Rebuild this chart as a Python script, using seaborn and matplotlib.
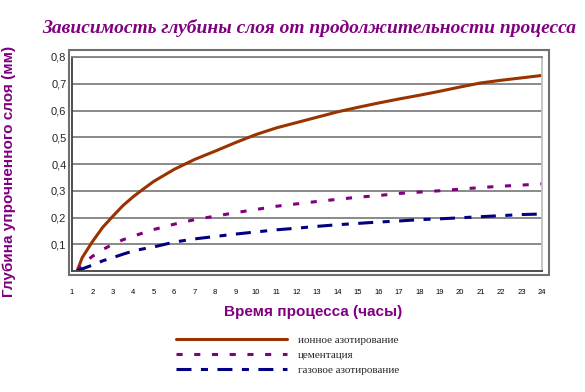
import matplotlib
matplotlib.use("Agg")
import matplotlib.pyplot as plt
import seaborn as sns
import pandas as pd
from matplotlib.patches import Rectangle

hours = [1.25, 1.5, 2, 2.5, 3, 3.5, 4, 4.5, 5, 6, 7, 8, 9, 10, 11, 12, 13, 14, 15, 16, 17, 18, 19, 20, 21, 22, 23, 24]
ion_nitriding = [0.0, 0.05, 0.11, 0.163, 0.205, 0.245, 0.278, 0.307, 0.335, 0.38, 0.417, 0.448, 0.48, 0.51,
                 0.535, 0.555, 0.575, 0.595, 0.612, 0.628, 0.643, 0.657, 0.672, 0.688, 0.703, 0.713, 0.722, 0.731]
carburizing = [0.0, 0.025, 0.055, 0.08, 0.10, 0.117, 0.13, 0.143, 0.155, 0.175, 0.192, 0.205, 0.218, 0.23,
               0.242, 0.251, 0.26, 0.268, 0.276, 0.282, 0.29, 0.295, 0.30, 0.306, 0.312, 0.317, 0.321, 0.326]
gas_nitriding = [0.0, 0.008, 0.022, 0.038, 0.05, 0.063, 0.075, 0.083, 0.09, 0.108, 0.12, 0.129, 0.138, 0.146,
                 0.154, 0.16, 0.167, 0.173, 0.178, 0.183, 0.187, 0.192, 0.195, 0.199, 0.203, 0.207, 0.211, 0.213]
series_names = ["ионное азотирование", "цементация", "газовое азотирование"]
x_ticks = list(range(1, 25))
y_ticks = [0.1, 0.2, 0.3, 0.4, 0.5, 0.6, 0.7, 0.8]
y_tick_labels = ["0,1", "0,2", "0,3", "0,4", "0,5", "0,6", "0,7", "0,8"]

title = "Зависимость глубины слоя от продолжительности процесса"
x_label = "Время процесса (часы)"
y_label = "Глубина упрочненного слоя (мм)"

df = pd.DataFrame({
    "hours": hours * 3,
    "depth": ion_nitriding + carburizing + gas_nitriding,
    "series": [series_names[0]] * len(hours) + [series_names[1]] * len(hours) + [series_names[2]] * len(hours),
})

sns.set_theme(style="white")
plt.rcParams["font.family"] = ["Liberation Sans", "DejaVu Sans"]

fig = plt.figure(figsize=(5.85, 3.92), dpi=100)
ax = fig.add_axes([72 / 585, 1 - 271 / 392, 470 / 585, 214 / 392])

palette = {series_names[0]: "#993300", series_names[1]: "#800080", series_names[2]: "#000080"}
dashes = {series_names[0]: "", series_names[1]: (2.0, 3.8), series_names[2]: (4.9, 3.1, 2.3, 3.1)}
sns.lineplot(data=df, x="hours", y="depth", hue="series", style="series", palette=palette,
             dashes=dashes, linewidth=2.2, ax=ax, sort=False, estimator=None)
for ln in ax.get_lines():
    ln.set_dash_capstyle("butt")
    ln.set_solid_joinstyle("round")

ax.set_xlim(1, 24)
ax.set_ylim(0, 0.8)
ax.set_yticks(y_ticks)
ax.set_yticklabels(y_tick_labels, fontsize=8)
ax.set_xticks(x_ticks)
ax.set_xticklabels([str(t) for t in x_ticks], fontsize=5.5)
ax.tick_params(axis="x", length=2, width=0.8, pad=13, direction="in", colors="black")
ax.tick_params(axis="y", length=0, pad=4)
ax.grid(axis="y", color="#808080", linewidth=1.3)
ax.set_axisbelow(True)
for s in ["left", "bottom"]:
    ax.spines[s].set_color("#404040")
    ax.spines[s].set_linewidth(1.3)
ax.spines["top"].set_color("#808080")
ax.spines["top"].set_linewidth(1.3)
ax.spines["right"].set_color("#c0c0c0")
ax.spines["right"].set_linewidth(1.3)

ax.set_xlabel(x_label, fontsize=11, fontweight="bold", color="#800080")
ax.set_ylabel(y_label, fontsize=11, fontweight="bold", color="#800080")
ax.xaxis.set_label_coords(0.513, -0.159)
ax.yaxis.set_label_coords(-0.12, 0.463)

handles, labels = ax.get_legend_handles_labels()
ax.get_legend().remove()
leg = fig.legend(handles, labels, loc="upper left", bbox_to_anchor=(176 / 585, 1 - 335 / 392),
                 frameon=False, handlelength=10, handletextpad=1.0, labelspacing=0.48,
                 borderpad=0, borderaxespad=0,
                 prop={"family": ["Liberation Serif", "DejaVu Serif"], "size": 8})

fig.text(309 / 585, 1 - 28 / 392, title, ha="center", va="center", fontsize=14,
         fontweight="bold", fontstyle="italic", color="#800080",
         family=["Liberation Serif", "DejaVu Serif"])

fig.patches.append(Rectangle((69 / 585, 1 - 275 / 392), 480 / 585, 225 / 392,
                             transform=fig.transFigure, fill=False, edgecolor="#707070",
                             linewidth=1.5, zorder=0))

fig.savefig("out.png", dpi=100)
